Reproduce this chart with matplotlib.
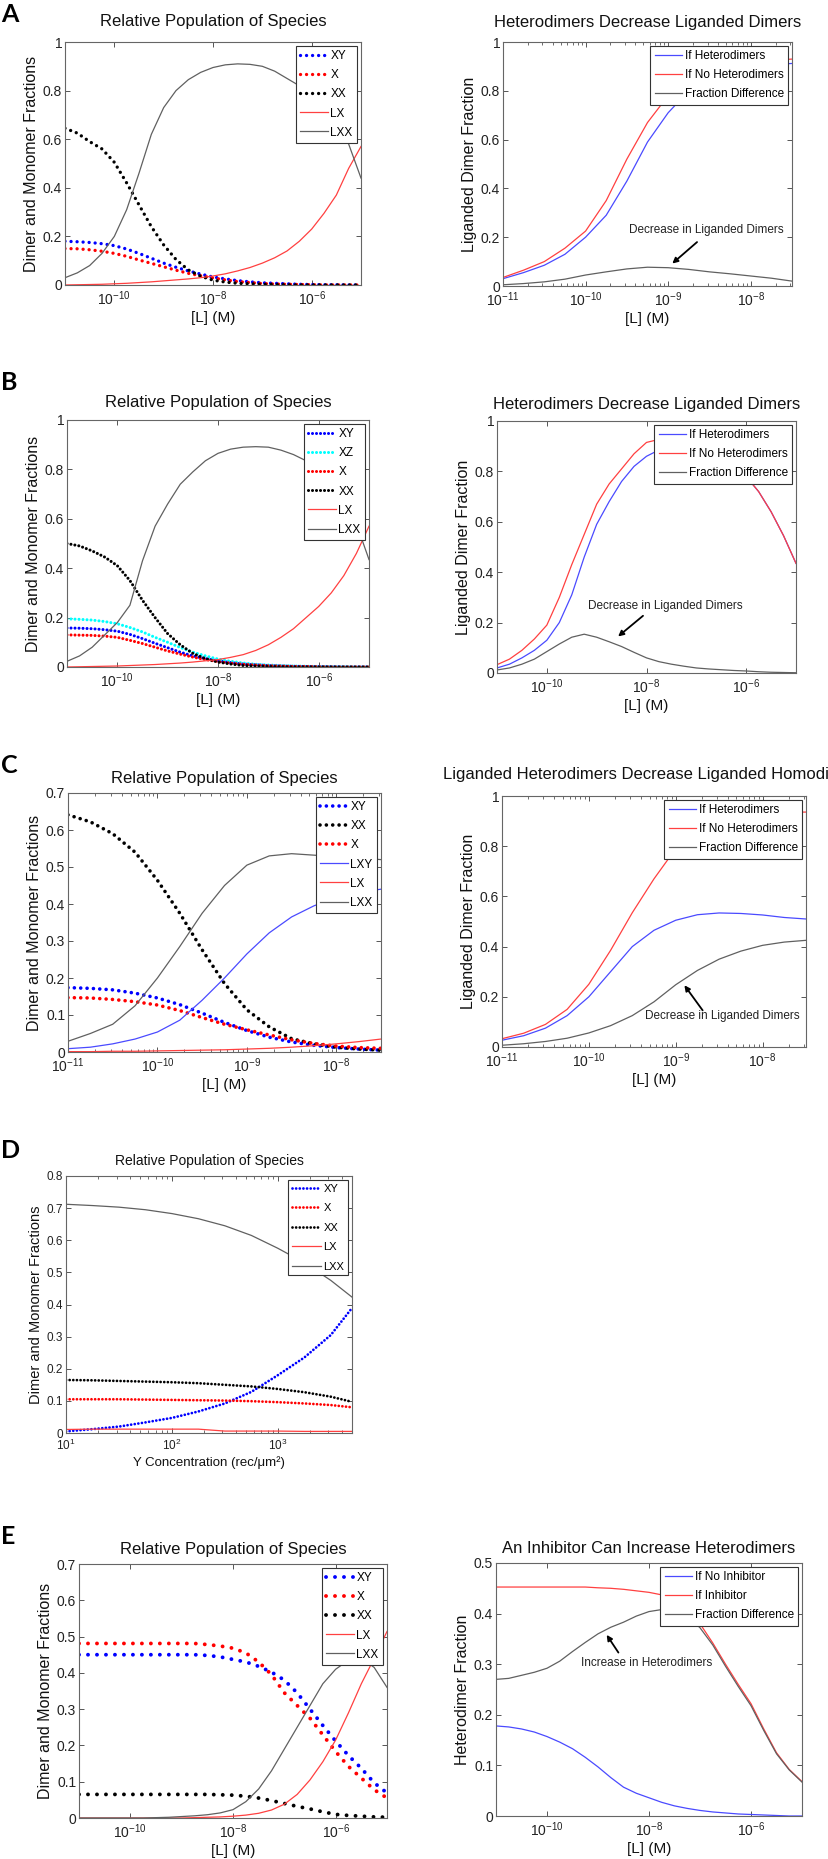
import numpy as np
import matplotlib
matplotlib.use("Agg")
import matplotlib.pyplot as plt
from matplotlib.ticker import FixedLocator, NullLocator, LogLocator, FuncFormatter

plt.rcParams['font.family'] = ['Liberation Sans', 'DejaVu Sans']
plt.rcParams['mathtext.fontset'] = 'custom'
plt.rcParams['mathtext.rm'] = 'Liberation Sans'
plt.rcParams['mathtext.default'] = 'regular'

W, H = 829, 1859

# ---------------- data (x given as log10 of [L] or of Y) ----------------
# quarter-decade grids of log10 [L]
logL_6dec = [-11, -10.75, -10.5, -10.25, -10, -9.75, -9.5, -9.25, -9, -8.75, -8.5, -8.25, -8,
             -7.75, -7.5, -7.25, -7, -6.75, -6.5, -6.25, -6, -5.75, -5.5, -5.25, -5]
logL_35dec = [-11, -10.75, -10.5, -10.25, -10, -9.75, -9.5, -9.25, -9, -8.75, -8.5, -8.25, -8,
              -7.75, -7.5]

# A, left
a_xy = [0.18, 0.178, 0.175, 0.17, 0.162, 0.148, 0.13, 0.11, 0.09, 0.073, 0.058, 0.045, 0.033,
        0.025, 0.018, 0.013, 0.009, 0.007, 0.005, 0.003, 0.002, 0.001, 0.001, 0.0, 0.0]
a_x = [0.15, 0.149, 0.145, 0.139, 0.13, 0.118, 0.103, 0.089, 0.075, 0.061, 0.048, 0.038, 0.029,
       0.021, 0.014, 0.01, 0.006, 0.004, 0.003, 0.002, 0.001, 0.0, 0.0, 0.0, 0.0]
a_xx = [0.645, 0.625, 0.59, 0.56, 0.505, 0.42, 0.33, 0.24, 0.165, 0.105, 0.062, 0.036, 0.02,
        0.012, 0.007, 0.005, 0.003, 0.002, 0.001, 0.0, 0.0, 0.0, 0.0, 0.0, 0.0]
a_lx = [0.0, 0.001, 0.002, 0.003, 0.005, 0.007, 0.01, 0.013, 0.017, 0.021, 0.025, 0.03, 0.037,
        0.046, 0.058, 0.072, 0.09, 0.112, 0.14, 0.18, 0.23, 0.295, 0.37, 0.48, 0.57]
a_lxx = [0.03, 0.05, 0.08, 0.13, 0.2, 0.31, 0.46, 0.62, 0.73, 0.8, 0.845, 0.875, 0.895,
         0.906, 0.91, 0.908, 0.9, 0.88, 0.85, 0.82, 0.78, 0.73, 0.67, 0.58, 0.44]

# A, right
ar_het = [0.03, 0.055, 0.085, 0.13, 0.2, 0.29, 0.43, 0.59, 0.71, 0.80, 0.855, 0.885, 0.9, 0.908, 0.912]
ar_nohet = [0.035, 0.065, 0.1, 0.155, 0.225, 0.35, 0.52, 0.67, 0.78, 0.85, 0.885, 0.905, 0.918, 0.925, 0.93]
ar_diff = [0.005, 0.01, 0.017, 0.028, 0.045, 0.058, 0.07, 0.077, 0.075, 0.068, 0.058, 0.05, 0.041, 0.032, 0.02]

# B, left
b_xy = [0.158, 0.157, 0.155, 0.151, 0.145, 0.132, 0.115, 0.096, 0.078, 0.06, 0.045, 0.034, 0.025,
        0.018, 0.012, 0.009, 0.006, 0.004, 0.003, 0.002, 0.001, 0.001, 0.0, 0.0, 0.0]
b_xz = [0.195, 0.193, 0.19, 0.184, 0.175, 0.16, 0.142, 0.12, 0.1, 0.079, 0.06, 0.045, 0.032,
        0.023, 0.016, 0.011, 0.008, 0.006, 0.004, 0.003, 0.002, 0.001, 0.001, 0.0, 0.0]
b_x = [0.13, 0.129, 0.128, 0.125, 0.12, 0.108, 0.095, 0.08, 0.065, 0.052, 0.04, 0.03, 0.022,
       0.016, 0.011, 0.008, 0.005, 0.004, 0.002, 0.002, 0.001, 0.0, 0.0, 0.0, 0.0]
b_xx = [0.5, 0.49, 0.47, 0.445, 0.41, 0.35, 0.27, 0.2, 0.135, 0.09, 0.055, 0.034, 0.02,
        0.012, 0.006, 0.004, 0.002, 0.001, 0.0, 0.0, 0.0, 0.0, 0.0, 0.0, 0.0]
b_lx = [0.0, 0.001, 0.002, 0.003, 0.004, 0.006, 0.008, 0.01, 0.013, 0.016, 0.02, 0.025, 0.03,
        0.039, 0.05, 0.067, 0.09, 0.12, 0.155, 0.2, 0.245, 0.3, 0.37, 0.46, 0.57]
b_lxx = [0.023, 0.045, 0.08, 0.13, 0.18, 0.25, 0.43, 0.57, 0.66, 0.74, 0.79, 0.835, 0.865,
         0.882, 0.89, 0.892, 0.89, 0.878, 0.86, 0.835, 0.8, 0.75, 0.68, 0.58, 0.435]

# B, right
br_het = [0.02, 0.035, 0.06, 0.09, 0.13, 0.2, 0.31, 0.46, 0.59, 0.68, 0.76, 0.82, 0.86,
          0.885, 0.9, 0.903, 0.9, 0.89, 0.865, 0.828, 0.78, 0.72, 0.64, 0.545, 0.435]
br_nohet = [0.033, 0.055, 0.09, 0.135, 0.19, 0.3, 0.43, 0.55, 0.67, 0.75, 0.81, 0.87, 0.915,
            0.927, 0.93, 0.925, 0.915, 0.895, 0.87, 0.83, 0.78, 0.72, 0.64, 0.545, 0.435]
br_diff = [0.012, 0.02, 0.035, 0.055, 0.085, 0.115, 0.142, 0.154, 0.142, 0.124, 0.105, 0.082, 0.06,
           0.045, 0.035, 0.027, 0.02, 0.016, 0.013, 0.01, 0.008, 0.005, 0.003, 0.002, 0.001]

# C, left
c_xy = [0.174, 0.172, 0.168, 0.159, 0.146, 0.128, 0.105, 0.08, 0.058, 0.04, 0.027, 0.018, 0.012, 0.008, 0.005]
c_xx = [0.641, 0.622, 0.59, 0.54, 0.464, 0.375, 0.276, 0.185, 0.114, 0.068, 0.036, 0.022, 0.013, 0.008, 0.005]
c_x = [0.147, 0.146, 0.142, 0.136, 0.127, 0.112, 0.093, 0.075, 0.06, 0.046, 0.033, 0.023, 0.016, 0.012, 0.01]
c_lxy = [0.009, 0.013, 0.022, 0.035, 0.054, 0.086, 0.14, 0.2, 0.265, 0.322, 0.365, 0.395, 0.418, 0.432, 0.44]
c_lx = [0.001, 0.001, 0.002, 0.002, 0.003, 0.004, 0.005, 0.006, 0.008, 0.01, 0.013, 0.017, 0.022, 0.028, 0.035]
c_lxx = [0.029, 0.05, 0.075, 0.125, 0.2, 0.285, 0.375, 0.45, 0.505, 0.53, 0.536, 0.532, 0.528, 0.524, 0.52]

# C, right
cr_het = [0.027, 0.045, 0.075, 0.125, 0.2, 0.3, 0.4, 0.465, 0.505, 0.527, 0.534, 0.532, 0.526, 0.516, 0.51]
cr_nohet = [0.033, 0.055, 0.09, 0.15, 0.25, 0.385, 0.535, 0.67, 0.79, 0.86, 0.9, 0.92, 0.93, 0.935, 0.936]
cr_diff = [0.007, 0.013, 0.022, 0.035, 0.056, 0.085, 0.125, 0.18, 0.248, 0.305, 0.35, 0.382, 0.405, 0.418, 0.425]

# D (x = log10 of Y concentration)
d_logY = [1, 1.25, 1.5, 1.75, 2, 2.25, 2.5, 2.75, 3, 3.25, 3.5, 3.7]
d_xy = [0.005, 0.012, 0.02, 0.033, 0.047, 0.067, 0.092, 0.128, 0.18, 0.235, 0.305, 0.389]
d_x = [0.105, 0.105, 0.105, 0.104, 0.103, 0.102, 0.101, 0.099, 0.096, 0.092, 0.087, 0.08]
d_xx = [0.165, 0.164, 0.162, 0.16, 0.158, 0.155, 0.15, 0.145, 0.137, 0.127, 0.113, 0.097]
d_lx = [0.011, 0.012, 0.012, 0.012, 0.012, 0.012, 0.006, 0.006, 0.006, 0.005, 0.005, 0.005]
d_lxx = [0.712, 0.708, 0.703, 0.695, 0.683, 0.667, 0.645, 0.615, 0.575, 0.53, 0.475, 0.423]

# E, left
e_xy = [0.45, 0.45, 0.45, 0.45, 0.45, 0.45, 0.45, 0.45, 0.45, 0.45, 0.448, 0.444, 0.437,
        0.43, 0.418, 0.402, 0.38, 0.345, 0.3, 0.255, 0.212, 0.172, 0.137, 0.097, 0.069]
e_x = [0.481, 0.481, 0.481, 0.481, 0.481, 0.481, 0.481, 0.481, 0.481, 0.481, 0.478, 0.474, 0.468,
       0.455, 0.43, 0.395, 0.345, 0.31, 0.275, 0.229, 0.183, 0.142, 0.11, 0.078, 0.055]
e_xx = [0.065, 0.065, 0.065, 0.065, 0.065, 0.065, 0.065, 0.065, 0.065, 0.065, 0.065, 0.064, 0.063,
        0.06, 0.055, 0.048, 0.04, 0.032, 0.025, 0.017, 0.01, 0.007, 0.005, 0.003, 0.002]
e_lx = [0.0, 0.0, 0.0, 0.0, 0.0, 0.0, 0.0, 0.0, 0.0, 0.001, 0.002, 0.003, 0.005,
        0.008, 0.013, 0.022, 0.038, 0.065, 0.105, 0.155, 0.215, 0.29, 0.37, 0.44, 0.514]
e_lxx = [0.0, 0.0, 0.0, 0.0, 0.0, 0.0, 0.001, 0.002, 0.004, 0.006, 0.009, 0.014, 0.023,
         0.045, 0.08, 0.13, 0.19, 0.25, 0.31, 0.37, 0.41, 0.435, 0.44, 0.415, 0.36]

# E, right
er_noinh = [0.178, 0.176, 0.172, 0.166, 0.157, 0.146, 0.133, 0.116, 0.097, 0.076, 0.057, 0.045, 0.036,
            0.027, 0.02, 0.015, 0.011, 0.008, 0.006, 0.004, 0.003, 0.002, 0.001, 0.0, 0.0]
er_inh = [0.4525, 0.4525, 0.4525, 0.4525, 0.4525, 0.4525, 0.4525, 0.4525, 0.451, 0.45, 0.448, 0.445, 0.442,
          0.437, 0.428, 0.41, 0.38, 0.342, 0.3, 0.26, 0.222, 0.172, 0.125, 0.092, 0.068]
er_diff = [0.27, 0.272, 0.278, 0.284, 0.292, 0.306, 0.325, 0.343, 0.36, 0.373, 0.383, 0.395, 0.404,
           0.408, 0.405, 0.395, 0.372, 0.338, 0.296, 0.256, 0.218, 0.169, 0.123, 0.091, 0.067]

ticks_6dec = [1e-10, 1e-8, 1e-6]
ticks_35dec = [1e-11, 1e-10, 1e-9, 1e-8]
ticks_D = [1e1, 1e2, 1e3]
y_1 = [0, 0.2, 0.4, 0.6, 0.8, 1]
y_07 = [0, 0.1, 0.2, 0.3, 0.4, 0.5, 0.6, 0.7]
y_08 = [0, 0.1, 0.2, 0.3, 0.4, 0.5, 0.6, 0.7, 0.8]
y_05 = [0, 0.1, 0.2, 0.3, 0.4, 0.5]

BLUE_L, RED_L, GRAY_L = '#4a4aff', '#ff4040', '#606060'

fig = plt.figure(figsize=(W / 100, H / 100), dpi=100)


def panel(l, t, r, b):
    return fig.add_axes([l / W, 1 - b / H, (r - l) / W, (b - t) / H])


def setup(ax, xlim, xticks, ylim, yticks, title, ylabel, xlabel='[L] (M)',
          minor=False, tpad=9, fs=10, lfs=11.5, xlfs=11, tfs=12):
    ax.set_xscale('log')
    ax.set_xlim(*xlim)
    ax.set_ylim(*ylim)
    ax.xaxis.set_major_locator(FixedLocator(xticks))
    if minor:
        ax.xaxis.set_minor_locator(LogLocator(base=10, subs=np.arange(2, 10), numticks=20))
    else:
        ax.xaxis.set_minor_locator(NullLocator())
    ax.yaxis.set_major_locator(FixedLocator(yticks))
    ax.yaxis.set_major_formatter(FuncFormatter(lambda v, p: f'{v:g}'))
    ax.tick_params(which='both', direction='in', top=True, right=True,
                   color='#555555', labelcolor='#222222', labelsize=fs, pad=2)
    ax.tick_params(axis='x', which='both', pad=3.5)
    ax.tick_params(which='major', length=3.5, width=0.7)
    ax.tick_params(which='minor', length=2, width=0.6)
    for s in ax.spines.values():
        s.set_color('#666666')
        s.set_linewidth(0.8)
    ax.set_title(title, fontsize=tfs, pad=tpad, color='#111111')
    ax.set_ylabel(ylabel, fontsize=lfs, labelpad=3, color='#111111')
    ax.set_xlabel(xlabel, fontsize=xlfs, labelpad=2, color='#111111')


def dots(ax, logx, y, color, label, lw, gap):
    ax.plot(10.0 ** np.array(logx), y, color=color, lw=lw, ls=(0, (0.01, gap)),
            dash_capstyle='round', label=label)


def line(ax, logx, y, color, label):
    ax.plot(10.0 ** np.array(logx), y, color=color, lw=0.9, label=label)


def legend(ax, fs=8.5, sp=0.6, hl=2.3):
    leg = ax.legend(loc='upper right', fontsize=fs, fancybox=False, framealpha=1,
                    edgecolor='#333333', borderaxespad=0.35, borderpad=0.35,
                    labelspacing=sp, handlelength=hl, handletextpad=0.25)
    leg.get_frame().set_linewidth(0.8)


def note(ax, text, tx, ty, tail, head):
    ax.text(tx, ty, text, fontsize=8.5, ha='center', va='center', color='#222222')
    ax.annotate('', xy=head, xytext=tail,
                arrowprops=dict(arrowstyle='-|>', color='black', lw=1.3, mutation_scale=8,
                                shrinkA=0, shrinkB=0))


# ---------------- A ----------------
ax = panel(65, 42, 361, 285)
dots(ax, logL_6dec, a_xy, 'blue', 'XY', 2.4, 1.8)
dots(ax, logL_6dec, a_x, 'red', 'X', 2.4, 1.8)
dots(ax, logL_6dec, a_xx, 'black', 'XX', 2.4, 1.8)
line(ax, logL_6dec, a_lx, RED_L, 'LX')
line(ax, logL_6dec, a_lxx, GRAY_L, 'LXX')
setup(ax, (1e-11, 1e-5), ticks_6dec, (0, 1), y_1, 'Relative Population of Species',
      'Dimer and Monomer Fractions', tpad=11.5)
legend(ax)

ax = panel(503, 42, 792, 286)
line(ax, logL_35dec, ar_het, BLUE_L, 'If Heterodimers')
line(ax, logL_35dec, ar_nohet, RED_L, 'If No Heterodimers')
line(ax, logL_35dec, ar_diff, GRAY_L, 'Fraction Difference')
setup(ax, (1e-11, 10 ** -7.5), ticks_35dec, (0, 1), y_1, 'Heterodimers Decrease Liganded Dimers',
      'Liganded Dimer Fraction', minor=True, tpad=11)
legend(ax)
note(ax, 'Decrease in Liganded Dimers', 10 ** -8.54, 0.229, (10 ** -8.65, 0.18), (10 ** -8.95, 0.092))

# ---------------- B ----------------
ax = panel(67, 420, 369, 667)
dots(ax, logL_6dec, b_xy, 'blue', 'XY', 2.2, 1.3)
dots(ax, logL_6dec, b_xz, 'cyan', 'XZ', 2.2, 1.3)
dots(ax, logL_6dec, b_x, 'red', 'X', 2.2, 1.3)
dots(ax, logL_6dec, b_xx, 'black', 'XX', 2.2, 1.3)
line(ax, logL_6dec, b_lx, RED_L, 'LX')
line(ax, logL_6dec, b_lxx, GRAY_L, 'LXX')
setup(ax, (1e-11, 1e-5), ticks_6dec, (0, 1), y_1, 'Relative Population of Species',
      'Dimer and Monomer Fractions', tpad=9.5)
legend(ax)

ax = panel(497, 421, 796, 673)
line(ax, logL_6dec, br_het, BLUE_L, 'If Heterodimers')
line(ax, logL_6dec, br_nohet, RED_L, 'If No Heterodimers')
line(ax, logL_6dec, br_diff, GRAY_L, 'Fraction Difference')
setup(ax, (1e-11, 1e-5), ticks_6dec, (0, 1), y_1, 'Heterodimers Decrease Liganded Dimers',
      'Liganded Dimer Fraction', tpad=9)
legend(ax)
note(ax, 'Decrease in Liganded Dimers', 10 ** -7.62, 0.267, (10 ** -8.07, 0.227), (10 ** -8.57, 0.145))

# ---------------- C ----------------
ax = panel(68, 793, 381, 1052)
dots(ax, logL_35dec, c_xy, 'blue', 'XY', 2.6, 1.75)
dots(ax, logL_35dec, c_xx, 'black', 'XX', 2.6, 1.75)
dots(ax, logL_35dec, c_x, 'red', 'X', 2.6, 1.75)
line(ax, logL_35dec, c_lxy, BLUE_L, 'LXY')
line(ax, logL_35dec, c_lx, RED_L, 'LX')
line(ax, logL_35dec, c_lxx, GRAY_L, 'LXX')
setup(ax, (1e-11, 10 ** -7.5), ticks_35dec, (0, 0.7), y_07, 'Relative Population of Species',
      'Dimer and Monomer Fractions', minor=True, tpad=7.5)
legend(ax)

ax = panel(502, 796, 806, 1047)
line(ax, logL_35dec, cr_het, BLUE_L, 'If Heterodimers')
line(ax, logL_35dec, cr_nohet, RED_L, 'If No Heterodimers')
line(ax, logL_35dec, cr_diff, GRAY_L, 'Fraction Difference')
setup(ax, (1e-11, 10 ** -7.5), ticks_35dec, (0, 1), y_1,
      'Liganded Heterodimers Decrease Liganded Homodimers',
      'Liganded Dimer Fraction', minor=True, tpad=12)
legend(ax)
note(ax, 'Decrease in Liganded Dimers', 10 ** -8.46, 0.122, (10 ** -8.69, 0.146), (10 ** -8.9, 0.246))

# ---------------- D ----------------
ax = panel(66, 1176, 352, 1433)
dots(ax, d_logY, d_xy, 'blue', 'XY', 2.0, 1.3)
dots(ax, d_logY, d_x, 'red', 'X', 2.0, 1.3)
dots(ax, d_logY, d_xx, 'black', 'XX', 2.0, 1.3)
line(ax, d_logY, d_lx, RED_L, 'LX')
line(ax, d_logY, d_lxx, GRAY_L, 'LXX')
setup(ax, (10, 10 ** 3.7), ticks_D, (0, 0.8), y_08, 'Relative Population of Species',
      'Dimer and Monomer Fractions', xlabel='Y Concentration (rec/μm²)', minor=True,
      tpad=8, fs=8.5, lfs=10.5, xlfs=9.5, tfs=10)
legend(ax, fs=8, sp=0.85, hl=2.6)

# ---------------- E ----------------
ax = panel(79, 1564, 387, 1818)
dots(ax, logL_6dec, e_xy, 'blue', 'XY', 2.8, 2.3)
dots(ax, logL_6dec, e_x, 'red', 'X', 2.8, 2.3)
dots(ax, logL_6dec, e_xx, 'black', 'XX', 2.8, 2.3)
line(ax, logL_6dec, e_lx, RED_L, 'LX')
line(ax, logL_6dec, e_lxx, GRAY_L, 'LXX')
setup(ax, (1e-11, 1e-5), ticks_6dec, (0, 0.7), y_07, 'Relative Population of Species',
      'Dimer and Monomer Fractions', tpad=7)
legend(ax)

ax = panel(496, 1563, 802, 1816)
line(ax, logL_6dec, er_noinh, BLUE_L, 'If No Inhibitor')
line(ax, logL_6dec, er_inh, RED_L, 'If Inhibitor')
line(ax, logL_6dec, er_diff, GRAY_L, 'Fraction Difference')
setup(ax, (1e-11, 1e-5), ticks_6dec, (0, 0.5), y_05, 'An Inhibitor Can Increase Heterodimers',
      'Heterodimer Fraction', tpad=7)
legend(ax)
note(ax, 'Increase in Heterodimers', 10 ** -8.04, 0.302, (10 ** -8.6, 0.323), (10 ** -8.83, 0.358))

# panel letters
for letter, ypx in zip(['A', 'B', 'C', 'D', 'E'], [14, 383, 765, 1151, 1537]):
    fig.text(1 / W, 1 - ypx / H, letter, fontsize=18, fontweight='bold',
             family=['Lato', 'DejaVu Sans'], ha='left', va='center')

fig.savefig('out.png', dpi=100, facecolor='white')
